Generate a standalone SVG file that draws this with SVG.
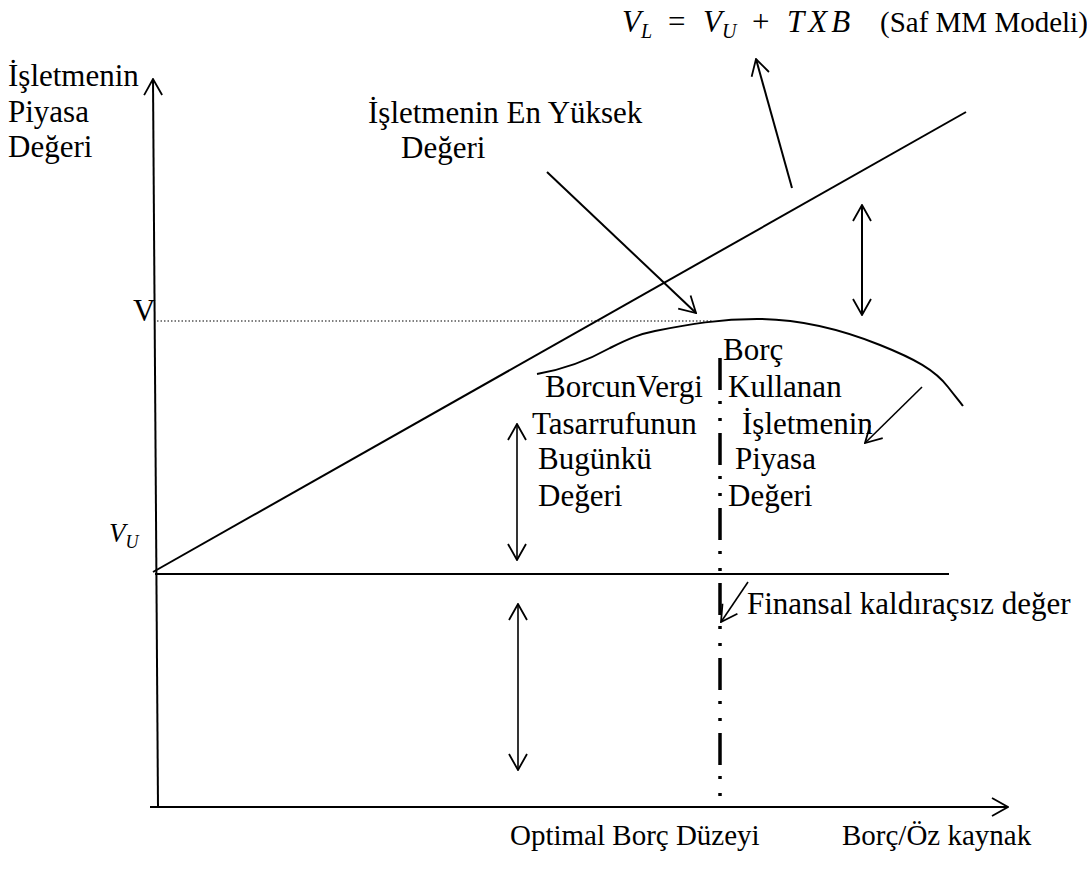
<svg xmlns="http://www.w3.org/2000/svg" width="1087" height="872" viewBox="0 0 1087 872">
<defs>
<style>
text{font-family:"Liberation Serif","Times New Roman",serif;font-size:31px;fill:#000}
text.sm{font-size:29px}
text.vu{font-size:27px;font-style:italic}
text.saf{font-size:29px}
.ln{stroke:#000;stroke-width:2;fill:none}
.thin{stroke:#000;stroke-width:1.6;fill:none}
.it{font-style:italic}
</style>
<marker id="ah" viewBox="0 0 18 20" refX="17" refY="10" markerWidth="18" markerHeight="20" markerUnits="userSpaceOnUse" orient="auto-start-reverse">
<path d="M1,1 L17,10 L1,19" fill="none" stroke="#000" stroke-width="1.8"/>
</marker>
</defs>
<rect width="1087" height="872" fill="#fff"/>

<g id="axes">
<line class="ln" x1="158" y1="808" x2="153" y2="79" marker-end="url(#ah)"/>
<line class="ln" x1="150" y1="807" x2="1008" y2="807" marker-end="url(#ah)"/>
</g>

<g id="connectors">
<line class="ln" x1="155" y1="574" x2="949" y2="574"/>
<line class="ln" x1="153" y1="572" x2="966" y2="112"/>
<line stroke="#000" stroke-width="1.2" stroke-dasharray="1.5 2" x1="157" y1="321" x2="713" y2="321"/>
<line stroke="#000" stroke-width="3.5" stroke-dasharray="32 11 3 14 3 12" x1="720" y1="358" x2="720" y2="798"/>
<path class="ln" d="M537,374 C560,370 585,362 610,348 C630,338 640,334 655,331 C690,324 720,319 757,319 C800,319 840,329 880,345 C915,359 935,370 948,387 C955,396 960,402 963,406"/>
<line class="thin" x1="517" y1="424" x2="517" y2="560" marker-start="url(#ah)" marker-end="url(#ah)"/>
<line class="thin" x1="518" y1="604" x2="518" y2="770" marker-start="url(#ah)" marker-end="url(#ah)"/>
<line class="ln" x1="862" y1="205" x2="862" y2="315" marker-start="url(#ah)" marker-end="url(#ah)"/>
<line class="ln" x1="792" y1="188" x2="756" y2="59" marker-end="url(#ah)"/>
<line class="ln" x1="547" y1="172" x2="696" y2="313" marker-end="url(#ah)"/>
<line class="thin" x1="922" y1="387" x2="865" y2="443" marker-end="url(#ah)"/>
<line class="thin" x1="748" y1="582" x2="721" y2="622" marker-end="url(#ah)"/>
</g>

<g id="labels">
<text x="8" y="86">İşletmenin</text>
<text x="8" y="122">Piyasa</text>
<text x="8" y="157">Değeri</text>
<text x="368" y="123">İşletmenin En Yüksek</text>
<text x="401" y="158">Değeri</text>
<text x="133" y="321">V</text>
<text x="109" y="542" class="vu">V<tspan font-size="18" dy="6">U</tspan></text>
</g>

<g id="formula">
<text y="32"><tspan x="622" class="it">V</tspan><tspan class="it" font-size="20" dy="6">L</tspan><tspan x="668" y="32">=</tspan><tspan x="703" class="it">V</tspan><tspan class="it" font-size="20" dy="6">U</tspan><tspan x="752" y="32">+</tspan><tspan x="787" class="it" letter-spacing="4">TXB</tspan></text>
<text x="880" y="32" class="saf">(Saf MM Modeli)</text>
</g>

<g id="node-left">
<text x="545" y="397">BorcunVergi</text>
<text x="532" y="434">Tasarrufunun</text>
<text x="538" y="469">Bugünkü</text>
<text x="538" y="506">Değeri</text>
</g>
<g id="node-right">
<text x="723" y="360">Borç</text>
<text x="728" y="397">Kullanan</text>
<text x="742" y="434">İşletmenin</text>
<text x="735" y="469">Piyasa</text>
<text x="728" y="506">Değeri</text>
</g>
<g id="node-unlevered">
<text x="747" y="614">Finansal kaldıraçsız değer</text>
</g>
<g id="node-xaxis">
<text x="510" y="845" class="sm">Optimal Borç Düzeyi</text>
<text x="842" y="845" class="sm">Borç/Öz kaynak</text>
</g>
</svg>
